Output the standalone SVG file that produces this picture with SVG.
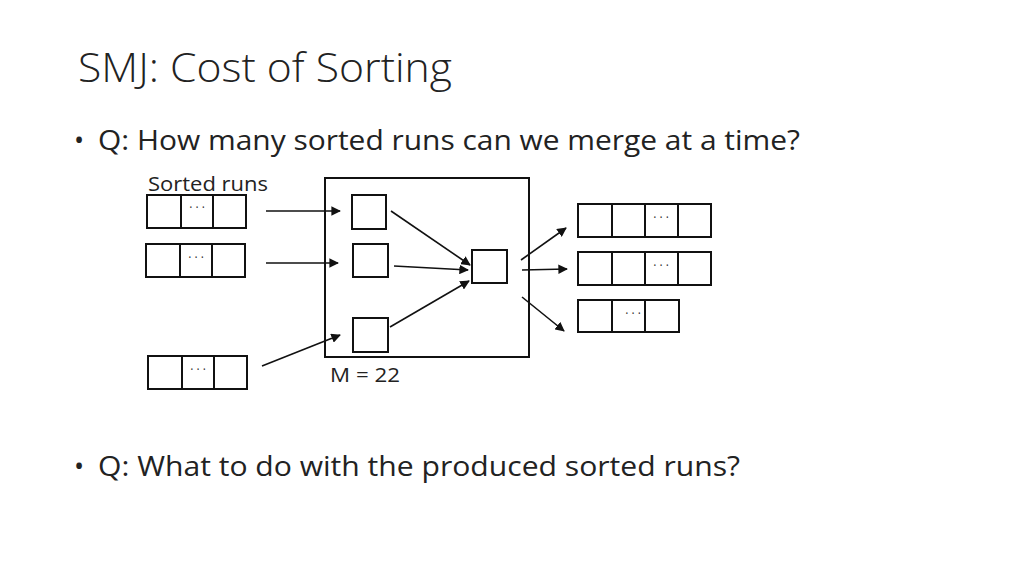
<svg xmlns="http://www.w3.org/2000/svg" width="1024" height="576" viewBox="0 0 1024 576">
<style>
text{font-family:"Open Sans","Liberation Sans",sans-serif;fill:#222}
.b{fill:#fff;stroke:#111;stroke-width:2}
.l{stroke:#111;stroke-width:1.6;fill:none;marker-end:url(#a)}
.d{font-size:12px;fill:#333}
</style>
<defs><marker id="a" viewBox="0 0 10 10" refX="9" refY="5" markerWidth="6" markerHeight="6" orient="auto"><path d="M0,0L10,5L0,10z" fill="#111"/></marker></defs>
<rect width="1024" height="576" fill="#fff"/>
<text x="78" y="82" font-size="40" font-weight="300" textLength="374" lengthAdjust="spacingAndGlyphs">SMJ: Cost of Sorting</text>
<text x="74" y="150" font-size="27">•</text>
<text x="98" y="150" font-size="27" textLength="702" lengthAdjust="spacingAndGlyphs">Q: How many sorted runs can we merge at a time?</text>
<text x="74" y="476" font-size="27">•</text>
<text x="98" y="476" font-size="27" textLength="642" lengthAdjust="spacingAndGlyphs">Q: What to do with the produced sorted runs?</text>
<text x="148" y="191" font-size="20" textLength="120" lengthAdjust="spacingAndGlyphs">Sorted runs</text>
<text x="330" y="382" font-size="20" textLength="70" lengthAdjust="spacingAndGlyphs">M = 22</text>
<g id="memory"><rect class="b" x="325" y="178" width="204" height="179"/></g>
<g id="run1"><rect class="b" x="147" y="195" width="99" height="33"/><path d="M181,195v33M213,195v33" stroke="#111" stroke-width="2"/><text class="d" x="197" y="212" text-anchor="middle">· · ·</text></g>
<g id="run2"><rect class="b" x="146" y="244" width="99" height="33"/><path d="M180,244v33M212,244v33" stroke="#111" stroke-width="2"/><text class="d" x="196" y="262" text-anchor="middle">· · ·</text></g>
<g id="run3"><rect class="b" x="148" y="356" width="99" height="33"/><path d="M182,356v33M214,356v33" stroke="#111" stroke-width="2"/><text class="d" x="198" y="374" text-anchor="middle">· · ·</text></g>
<g id="in1"><rect class="b" x="352" y="195" width="34" height="34"/></g>
<g id="in2"><rect class="b" x="353" y="244" width="35" height="33"/></g>
<g id="in3"><rect class="b" x="353" y="318" width="35" height="34"/></g>
<g id="outbuf"><rect class="b" x="472" y="250" width="35" height="33"/></g>
<g id="out1"><rect class="b" x="578" y="204" width="133" height="33"/><path d="M612,204v33M645,204v33M678,204v33" stroke="#111" stroke-width="2"/><text class="d" x="661" y="222" text-anchor="middle">· · ·</text></g>
<g id="out2"><rect class="b" x="578" y="252" width="133" height="33"/><path d="M612,252v33M645,252v33M678,252v33" stroke="#111" stroke-width="2"/><text class="d" x="661" y="270" text-anchor="middle">· · ·</text></g>
<g id="out3"><rect class="b" x="578" y="300" width="101" height="32"/><path d="M612,300v32M645,300v32" stroke="#111" stroke-width="2"/><text class="d" x="633" y="318" text-anchor="middle">· · ·</text></g>
<g id="connectors">
<path class="l" d="M266,211H340"/>
<path class="l" d="M266,263H338"/>
<path class="l" d="M262,366L340,335"/>
<path class="l" d="M391,211L470,265"/>
<path class="l" d="M394,266L468,270"/>
<path class="l" d="M390,327L469,281"/>
<path class="l" d="M521,260L566,228"/>
<path class="l" d="M522,270L567,269"/>
<path class="l" d="M522,297L564,331"/>
</g>
</svg>
